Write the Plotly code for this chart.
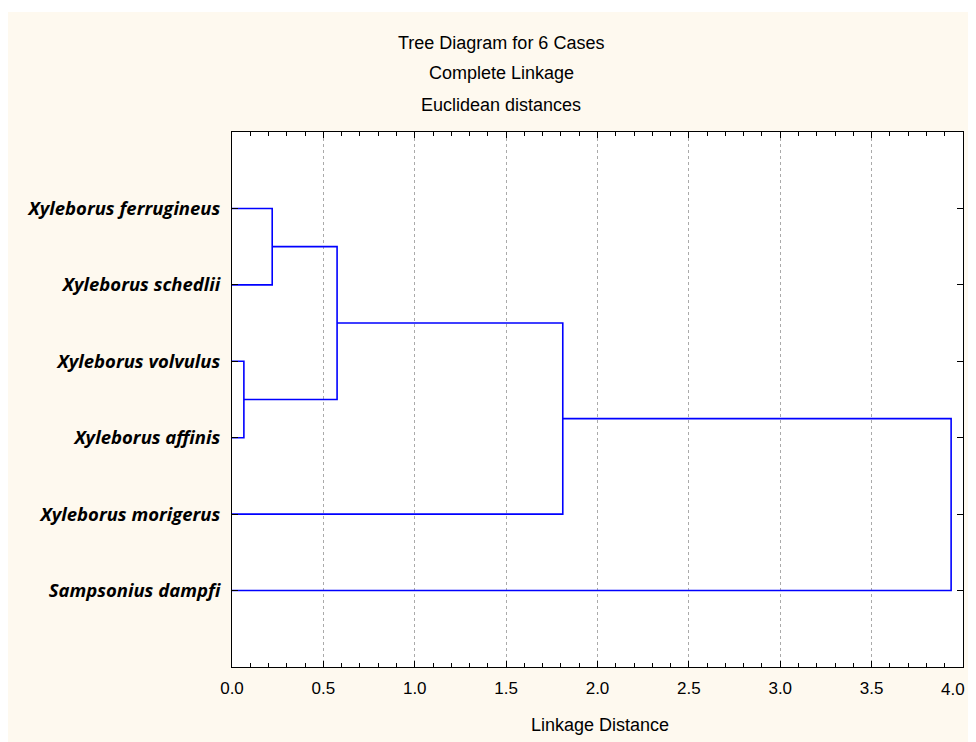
import plotly.graph_objects as go

# ---- data ----
leaf_labels = ["Xyleborus ferrugineus", "Xyleborus schedlii", "Xyleborus volvulus",
               "Xyleborus affinis", "Xyleborus morigerus", "Sampsonius dampfi"]
# scipy-style linkage: (cluster a, cluster b, linkage distance); new clusters numbered 6,7,...
merge_a = [0, 2, 6, 8, 9]
merge_b = [1, 3, 7, 4, 5]
merge_h = [0.22, 0.065, 0.575, 1.81, 3.935]
x_ticks = [0.0, 0.5, 1.0, 1.5, 2.0, 2.5, 3.0, 3.5, 4.0]
x_tick_text = ["0.0", "0.5", "1.0", "1.5", "2.0", "2.5", "3.0", "3.5", "4.0"]
title_lines = ["Tree Diagram for 6 Cases", "Complete Linkage", "Euclidean distances"]

# ---- build dendrogram segments ----
pos = {i: float(i) for i in range(len(leaf_labels))}
hgt = {i: 0.0 for i in range(len(leaf_labels))}
xs, ys = [], []
nid = len(leaf_labels)
for a, b, h in zip(merge_a, merge_b, merge_h):
    xs += [hgt[a], h, h, hgt[b], None]
    ys += [pos[a], pos[a], pos[b], pos[b], None]
    pos[nid] = (pos[a] + pos[b]) / 2
    hgt[nid] = h
    nid += 1

# page body adds an 8px offset; figure pixel coords = reference - 8
W, H = 968, 734
L, R, T, B = 224, 13, 124, 75
PW, PH = W - L - R, H - T - B


def px(xr):
    return (xr - 8 - L) / PW


def py(yr):
    return (H - B - (yr - 8)) / PH


cream = "#FEF9EF"
sans = "Liberation Sans, Arial, sans-serif"

fig = go.Figure()
fig.add_trace(go.Scatter(x=xs, y=ys, mode="lines",
                         line=dict(color="#0000FF", width=1.6),
                         hoverinfo="skip", showlegend=False))

# last tick label drawn as an annotation so it stays inside the page edge
shown_tick_text = x_tick_text[:-1] + [""]

fig.update_layout(
    width=W, height=H,
    margin=dict(l=L, r=R, t=T, b=B, autoexpand=False),
    paper_bgcolor=cream, plot_bgcolor="white",
    showlegend=False,
    shapes=[
        dict(type="rect", xref="paper", yref="paper", x0=-1, x1=2, y0=py(12), y1=py(0) + 0.05,
             fillcolor="white", line=dict(width=0), layer="below"),
    ],
    annotations=[
        dict(text=t, xref="paper", yref="paper", x=px(501), y=py(yy),
             showarrow=False, xanchor="center", yanchor="middle",
             font=dict(family=sans, size=18, color="black"))
        for t, yy in zip(title_lines, [43, 73, 105])
    ] + [
        dict(text="Linkage Distance", xref="paper", yref="paper", x=px(600), y=py(725),
             showarrow=False, xanchor="center", yanchor="middle",
             font=dict(family=sans, size=18, color="black")),
        dict(text=x_tick_text[-1], xref="x", yref="paper", x=x_ticks[-1], y=py(689),
             xanchor="right", yanchor="middle", xshift=3, showarrow=False, borderpad=0,
             font=dict(family=sans, size=17, color="black")),
    ],
)

fig.update_xaxes(
    range=[0, 4], tickvals=x_ticks, ticktext=shown_tick_text,
    showline=True, linecolor="black", linewidth=1, mirror="allticks",
    ticks="inside", ticklen=6, tickcolor="black",
    minor=dict(dtick=0.1, ticks="inside", ticklen=4, tickcolor="black", showgrid=False),
    showgrid=True, gridcolor="#AAAAAA", griddash="dot", gridwidth=1,
    zeroline=False, automargin=False,
    tickfont=dict(family=sans, size=17, color="black"),
    ticklabelstandoff=6,
    ticklabeloverflow="allow",
)
fig.update_yaxes(
    range=[6, -1], tickvals=list(range(len(leaf_labels))),
    ticktext=["<b><i>%s</i></b>" % s for s in leaf_labels],
    showline=True, linecolor="black", linewidth=1, mirror="ticks",
    ticks="inside", ticklen=6, tickcolor="black",
    showgrid=False, zeroline=False, automargin=False,
    tickfont=dict(family="Open Sans, Noto Sans, sans-serif", size=18.5, color="black"),
    ticklabelstandoff=7,
)

fig.write_html("out.html")
